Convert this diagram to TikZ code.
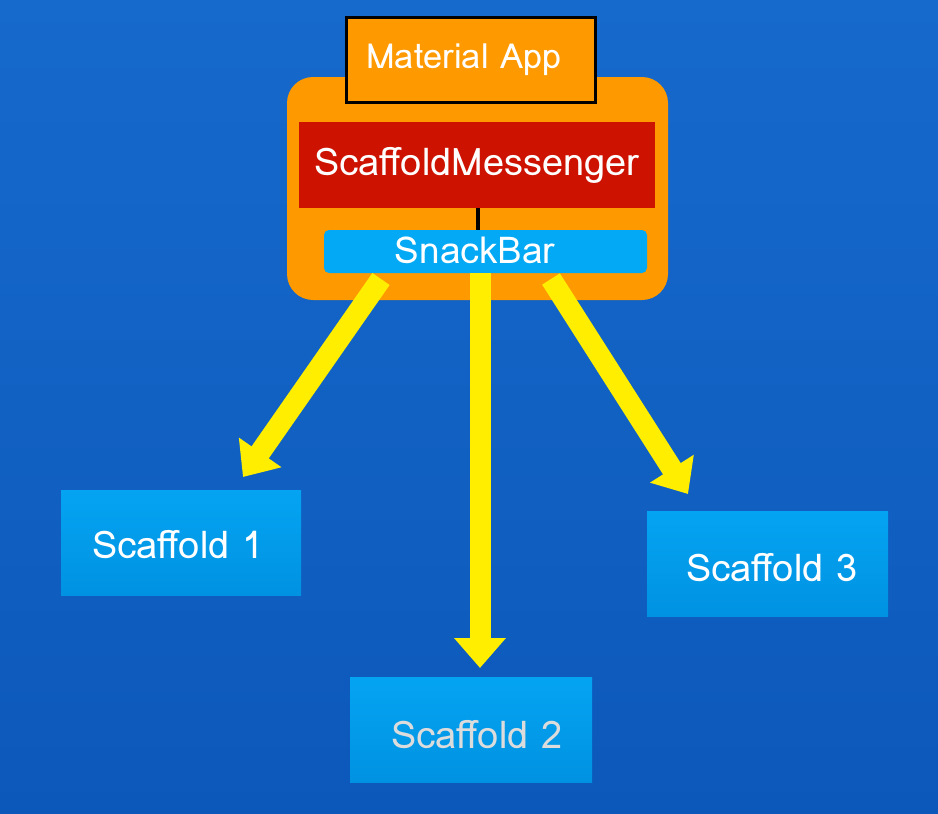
\documentclass[tikz,border=0pt]{standalone}
\usepackage{fontspec}
\setmainfont{Loma}
\usetikzlibrary{arrows.meta}
\definecolor{bgtop}{RGB}{22,106,204}
\definecolor{bgbot}{RGB}{12,88,186}
\definecolor{orangebox}{RGB}{255,153,0}
\definecolor{redbox}{RGB}{206,18,0}
\definecolor{snackblue}{RGB}{3,169,244}
\definecolor{scafftop}{RGB}{4,164,242}
\definecolor{scaffbot}{RGB}{0,146,226}
\definecolor{arrowyellow}{RGB}{255,238,0}
\definecolor{greytext}{RGB}{220,220,220}
\tikzset{
  bigbox/.style={fill=orangebox, rounded corners=26pt, draw=none},
  appbox/.style={fill=orangebox, draw=black, line width=3pt},
  messbox/.style={fill=redbox, draw=none, text=white, font=\fontsize{38}{42}\selectfont},
  snackbox/.style={fill=snackblue, draw=none, rounded corners=5pt},
  lbl/.style={text=white, inner sep=0pt},
  scaffbox/.style={top color=scafftop, bottom color=scaffbot, draw=none},
  fatarrow/.style={draw=arrowyellow, line width=21pt, -{Triangle[width=50pt,length=30pt]}},
}
\begin{document}
\begin{tikzpicture}[x=1pt,y=-1pt]
  \useasboundingbox (0,0) rectangle (938,814);
  \shade[top color=bgtop, bottom color=bgbot] (0,0) rectangle (938,814);
  % orange container
  \node[bigbox, minimum width=381pt, minimum height=223pt, inner sep=0pt] (outer) at (477.5,188.5) {};
  % Material App
  \node[appbox, minimum width=249pt, minimum height=85pt, inner sep=0pt] (app) at (471,60) {};
  \node[lbl, font=\fontsize{34.5}{38}\selectfont] (applbl) at (464,60) {Material App};
  % ScaffoldMessenger
  \node[messbox, minimum width=356pt, minimum height=86pt, inner sep=0pt] (mess) at (477,165) {ScaffoldMessenger};
  % SnackBar
  \node[snackbox, minimum width=323pt, minimum height=43pt, inner sep=0pt] (snack) at (485.5,251.5) {};
  \node[lbl, font=\fontsize{37}{40}\selectfont] (snacklbl) at (475,250) {SnackBar};
  \coordinate (linktop) at (478,208);
  \coordinate (linkbot) at (478,230);
  \draw[line width=3.5pt, black] (linktop) -- (linkbot);
  % Scaffolds
  \node[scaffbox, minimum width=240pt, minimum height=105pt, inner sep=0pt] (s1) at (181,542.5) {};
  \node[lbl, font=\fontsize{38}{42}\selectfont] (s1lbl) at (178,545) {Scaffold 1};
  \node[scaffbox, minimum width=242pt, minimum height=105pt, inner sep=0pt] (s2) at (471,729.5) {};
  \node[lbl, text=greytext, font=\fontsize{38}{42}\selectfont] (s2lbl) at (477,735) {Scaffold 2};
  \node[scaffbox, minimum width=241pt, minimum height=105pt, inner sep=0pt] (s3) at (767.5,563.5) {};
  \node[lbl, font=\fontsize{38}{42}\selectfont] (s3lbl) at (772,568) {Scaffold 3};
  % arrows
  \coordinate (a1s) at (381,279);
  \coordinate (a1e) at (243,477);
  \coordinate (a2s) at (480,273);
  \coordinate (a2e) at (480,668);
  \coordinate (a3s) at (551,279);
  \coordinate (a3e) at (688,494);
  \draw[fatarrow] (a1s) -- (a1e);
  \draw[fatarrow] (a2s) -- (a2e);
  \draw[fatarrow] (a3s) -- (a3e);
\end{tikzpicture}
\end{document}
